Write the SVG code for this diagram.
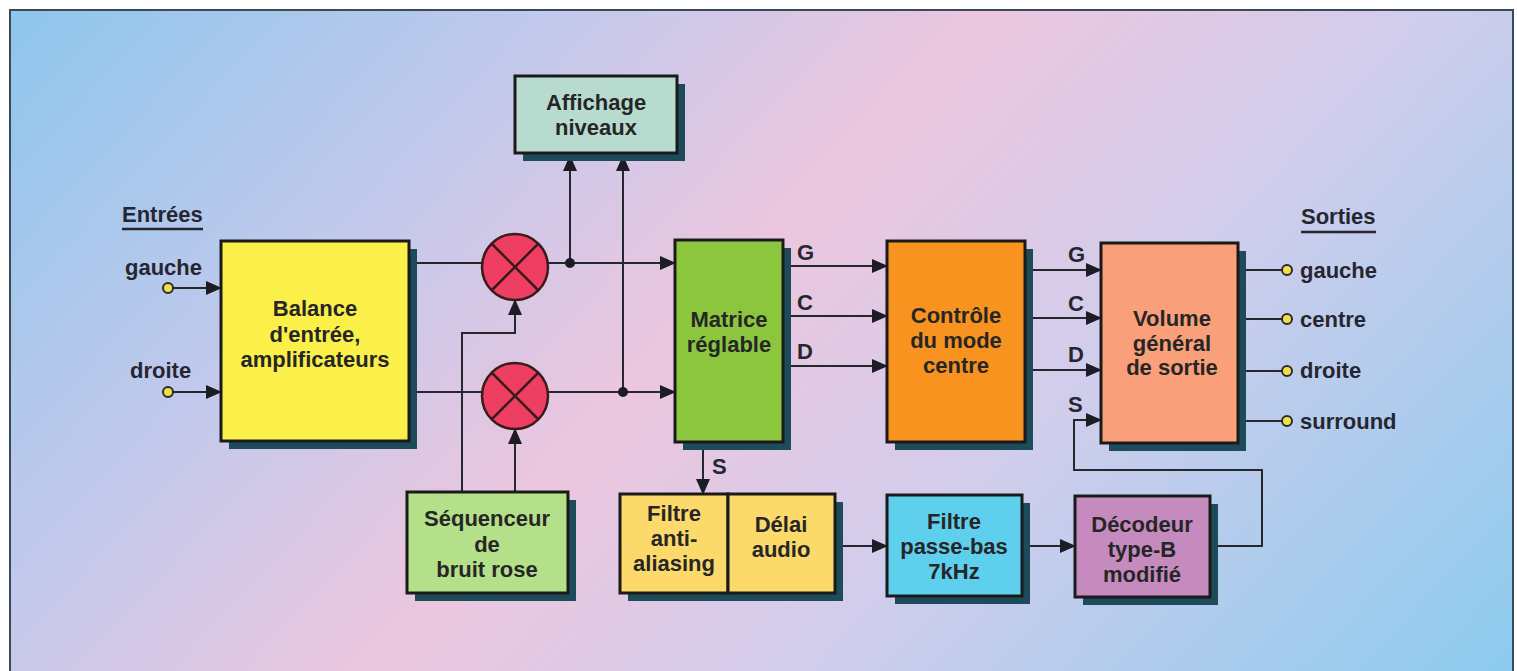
<svg xmlns="http://www.w3.org/2000/svg" width="1517" height="671" viewBox="0 0 1517 671">
<defs>
<linearGradient id="bg" gradientUnits="userSpaceOnUse" x1="0" y1="0" x2="1517" y2="1420">
<stop offset="0" stop-color="#8cc6ec"/>
<stop offset="0.2" stop-color="#c2c9ec"/>
<stop offset="0.35" stop-color="#ecc6de"/>
<stop offset="0.5" stop-color="#d2cdec"/>
<stop offset="0.75" stop-color="#8ccbee"/>
</linearGradient>
<marker id="ar" markerUnits="userSpaceOnUse" markerWidth="16" markerHeight="14" refX="15" refY="7" orient="auto" viewBox="0 0 16 14">
<path d="M0,0 L16,7 L0,14 Z" fill="#1c1c24"/>
</marker>
</defs>
<style>
.box{stroke:#1a1a1a;stroke-width:3}
.sh{fill:#1e4b5a}
.t{font-family:"Liberation Sans",Arial,sans-serif;font-weight:bold;font-size:22px;text-anchor:middle;fill:#262626}
.l{font-family:"Liberation Sans",Arial,sans-serif;font-weight:bold;font-size:22px;fill:#262630}
.w{fill:none;stroke:#26262e;stroke-width:2}
.a{marker-end:url(#ar)}
.pt{fill:#f0df4a;stroke:#2a2a2a;stroke-width:2}
</style>
<rect x="0" y="0" width="1517" height="671" fill="#ffffff"/>
<rect x="10" y="10" width="1503" height="670" fill="url(#bg)" stroke="#3a4a5a" stroke-width="2"/>

<g id="labels">
<text class="l" x="122" y="222">Entrées</text>
<line x1="122" y1="229" x2="203" y2="229" stroke="#26262e" stroke-width="2.5"/>
<text class="l" x="125" y="275">gauche</text>
<text class="l" x="130" y="378">droite</text>
<text class="l" x="1301" y="224">Sorties</text>
<line x1="1301" y1="232" x2="1376" y2="232" stroke="#26262e" stroke-width="2.5"/>
<text class="l" x="1300" y="278">gauche</text>
<text class="l" x="1300" y="327">centre</text>
<text class="l" x="1300" y="378">droite</text>
<text class="l" x="1300" y="429">surround</text>
<text class="l" x="797" y="260" font-size="21">G</text>
<text class="l" x="797" y="310" font-size="21">C</text>
<text class="l" x="797" y="359" font-size="21">D</text>
<text class="l" x="712" y="474" font-size="21">S</text>
<text class="l" x="1068" y="262" font-size="21">G</text>
<text class="l" x="1068" y="311" font-size="21">C</text>
<text class="l" x="1068" y="362" font-size="21">D</text>
<text class="l" x="1068" y="412" font-size="21">S</text>
</g>

<g id="connectors">
<path class="w a" d="M173,288 H221"/>
<path class="w a" d="M173,392 H221"/>
<path class="w" d="M409,263 H482"/>
<path class="w" d="M409,392 H482"/>
<path class="w a" d="M548,263 H675"/>
<path class="w a" d="M548,392 H675"/>
<path class="w a" d="M570,263 V156"/>
<path class="w a" d="M623,392 V156"/>
<circle cx="570" cy="263" r="5" fill="#1c1c24"/>
<circle cx="623" cy="392" r="5" fill="#1c1c24"/>
<path class="w a" d="M462,492 V333 H515 V300"/>
<path class="w a" d="M515,492 V429"/>
<path class="w a" d="M783,266 H887"/>
<path class="w a" d="M783,316 H887"/>
<path class="w a" d="M783,366 H887"/>
<path class="w a" d="M703,442 V494"/>
<path class="w a" d="M1025,270 H1101"/>
<path class="w a" d="M1025,318 H1101"/>
<path class="w a" d="M1025,370 H1101"/>
<path class="w a" d="M835,546 H887"/>
<path class="w a" d="M1022,546 H1075"/>
<path class="w a" d="M1210,546 H1262 V470 H1074 V420 H1101"/>
<path class="w" d="M1238,270 H1282"/>
<path class="w" d="M1238,319 H1282"/>
<path class="w" d="M1238,371 H1282"/>
<path class="w" d="M1238,421 H1282"/>
<circle class="pt" cx="168" cy="288" r="5"/>
<circle class="pt" cx="168" cy="392" r="5"/>
<circle class="pt" cx="1287" cy="270" r="5"/>
<circle class="pt" cx="1287" cy="319" r="5"/>
<circle class="pt" cx="1287" cy="371" r="5"/>
<circle class="pt" cx="1287" cy="421" r="5"/>
</g>

<g id="balance">
<rect class="sh" x="229" y="249" width="188" height="200"/>
<rect class="box" x="221" y="241" width="188" height="200" fill="#fbf04a"/>
<text class="t" x="315" y="316" fill="#3a3a14">Balance</text>
<text class="t" x="315" y="342" fill="#3a3a14">d'entrée,</text>
<text class="t" x="315" y="367" fill="#3a3a14">amplificateurs</text>
</g>

<g id="affichage">
<rect class="sh" x="523" y="84" width="162" height="77"/>
<rect class="box" x="515" y="76" width="162" height="77" fill="#b7dccf"/>
<text class="t" x="596" y="110">Affichage</text>
<text class="t" x="596" y="135">niveaux</text>
</g>

<g id="mix1">
<circle cx="515" cy="267" r="33" fill="#ee3f63" stroke="#3a1a1a" stroke-width="2.5"/>
<path d="M492,244 L538,290 M538,244 L492,290" stroke="#3a1a1a" stroke-width="2.5"/>
</g>
<g id="mix2">
<circle cx="515" cy="396" r="33" fill="#ee3f63" stroke="#3a1a1a" stroke-width="2.5"/>
<path d="M492,373 L538,419 M538,373 L492,419" stroke="#3a1a1a" stroke-width="2.5"/>
</g>

<g id="sequenceur">
<rect class="sh" x="415" y="500" width="161" height="101"/>
<rect class="box" x="407" y="492" width="161" height="101" fill="#b5e08a"/>
<text class="t" x="487" y="526" fill="#1f3a18">Séquenceur</text>
<text class="t" x="487" y="552" fill="#1f3a18">de</text>
<text class="t" x="487" y="577" fill="#1f3a18">bruit rose</text>
</g>

<g id="matrice">
<rect class="sh" x="683" y="248" width="108" height="202"/>
<rect class="box" x="675" y="240" width="108" height="202" fill="#8cc63e"/>
<text class="t" x="729" y="327" fill="#1f3a18">Matrice</text>
<text class="t" x="729" y="352" fill="#1f3a18">réglable</text>
</g>

<g id="filtre-delai">
<rect class="sh" x="628" y="502" width="215" height="99"/>
<rect class="box" x="620" y="494" width="108" height="99" fill="#fbd96a"/>
<rect class="box" x="728" y="494" width="107" height="99" fill="#fbd96a"/>
<text class="t" x="674" y="521" fill="#33260e">Filtre</text>
<text class="t" x="674" y="546" fill="#33260e">anti-</text>
<text class="t" x="674" y="571" fill="#33260e">aliasing</text>
<text class="t" x="781" y="532" fill="#33260e">Délai</text>
<text class="t" x="781" y="557" fill="#33260e">audio</text>
</g>

<g id="controle">
<rect class="sh" x="895" y="249" width="138" height="201"/>
<rect class="box" x="887" y="241" width="138" height="201" fill="#f7931e"/>
<text class="t" x="956" y="323" fill="#33200e">Contrôle</text>
<text class="t" x="956" y="348" fill="#33200e">du mode</text>
<text class="t" x="956" y="373" fill="#33200e">centre</text>
</g>

<g id="volume">
<rect class="sh" x="1109" y="251" width="137" height="200"/>
<rect class="box" x="1101" y="243" width="137" height="200" fill="#f9a07a"/>
<text class="t" x="1172" y="326" fill="#33200e">Volume</text>
<text class="t" x="1172" y="351" fill="#33200e">général</text>
<text class="t" x="1172" y="375" fill="#33200e">de sortie</text>
</g>

<g id="passe-bas">
<rect class="sh" x="895" y="503" width="135" height="101"/>
<rect class="box" x="887" y="495" width="135" height="101" fill="#5fcfee"/>
<text class="t" x="954" y="529" fill="#102a3a">Filtre</text>
<text class="t" x="954" y="554" fill="#102a3a">passe-bas</text>
<text class="t" x="954" y="579" fill="#102a3a">7kHz</text>
</g>

<g id="decodeur">
<rect class="sh" x="1083" y="504" width="135" height="101"/>
<rect class="box" x="1075" y="496" width="135" height="101" fill="#c58bbf"/>
<text class="t" x="1142" y="532" fill="#301428">Décodeur</text>
<text class="t" x="1142" y="557" fill="#301428">type-B</text>
<text class="t" x="1142" y="582" fill="#301428">modifié</text>
</g>
</svg>
